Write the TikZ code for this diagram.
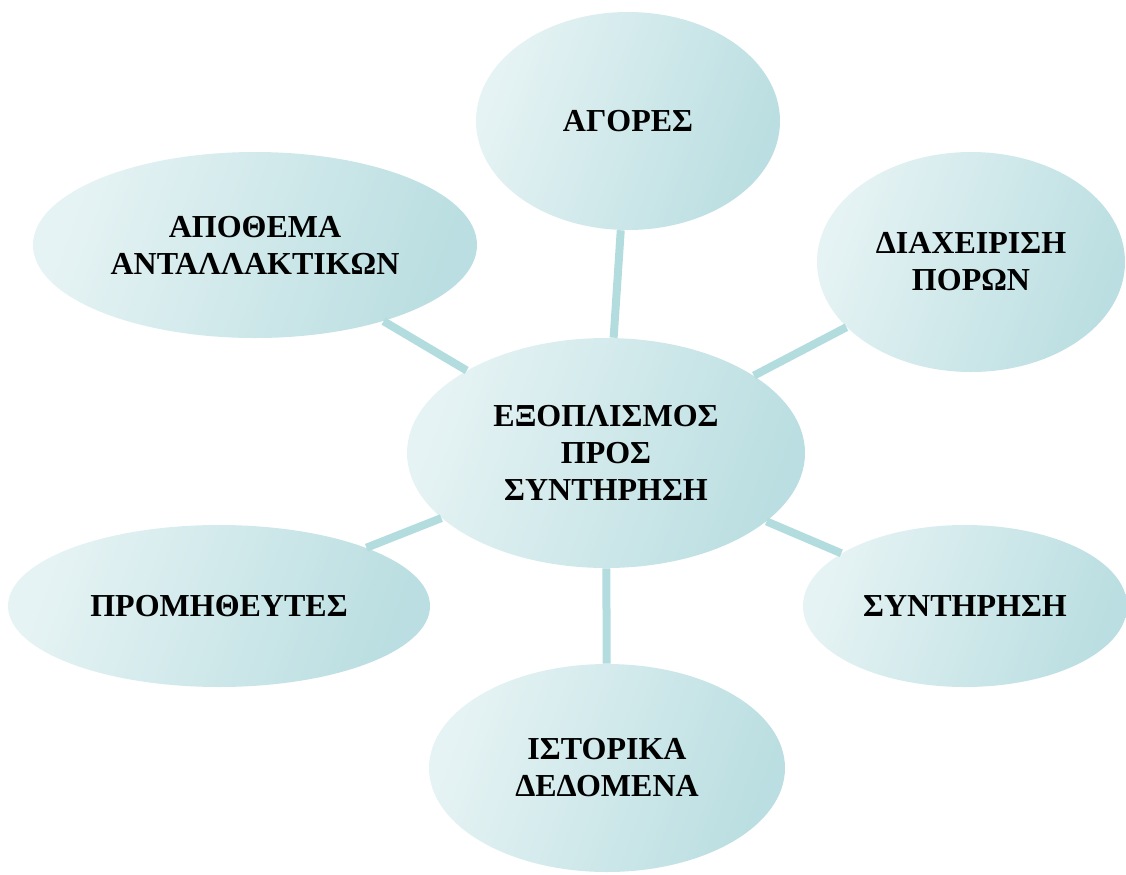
\documentclass[tikz,border=0pt]{standalone}
\usepackage{fontspec}
\setmainfont{Liberation Serif}
\usetikzlibrary{shapes.geometric}
\definecolor{bubblelight}{HTML}{E6F3F4}
\definecolor{bubbledark}{HTML}{BADEE1}
\definecolor{linkcolor}{HTML}{B3DCDF}
\tikzset{
  bubble/.style={ellipse, inner sep=0pt, align=center,
    left color=bubblelight, right color=bubbledark, shading angle=70,
    font=\fontsize{16}{18.5}\selectfont\bfseries},
  link/.style={draw=linkcolor, line width=4pt}
}
\begin{document}
\begin{tikzpicture}[x=0.5pt,y=-0.5pt]
\useasboundingbox (0,0) rectangle (1126,874);
% centre and the six topics round it
\node[bubble, minimum width=199pt, minimum height=115pt] (equip) at (606,453) {ΕΞΟΠΛΙΣΜΟΣ\\ΠΡΟΣ\\ΣΥΝΤΗΡΗΣΗ};
\node[bubble, minimum width=152pt, minimum height=109pt] (markets) at (628,121) {ΑΓΟΡΕΣ};
\node[bubble, minimum width=222pt, minimum height=93pt] (stock) at (255,245) {ΑΠΟΘΕΜΑ\\ΑΝΤΑΛΛΑΚΤΙΚΩΝ};
\node[bubble, minimum width=154pt, minimum height=110pt] (resources) at (971,262) {ΔΙΑΧΕΙΡΙΣΗ\\ΠΟΡΩΝ};
\node[bubble, minimum width=211pt, minimum height=81pt] (suppliers) at (219,606) {ΠΡΟΜΗΘΕΥΤΕΣ};
\node[bubble, minimum width=162pt, minimum height=81pt] (service) at (965,606) {ΣΥΝΤΗΡΗΣΗ};
\node[bubble, minimum width=178pt, minimum height=104pt] (history) at (607,768) {ΙΣΤΟΡΙΚΑ\\ΔΕΔΟΜΕΝΑ};

\draw[link] (equip) -- (markets);
\draw[link] (equip) -- (stock);
\draw[link] (equip) -- (resources);
\draw[link] (equip) -- (suppliers);
\draw[link] (equip) -- (service);
\draw[link] (equip) -- (history);
\end{tikzpicture}
\end{document}
